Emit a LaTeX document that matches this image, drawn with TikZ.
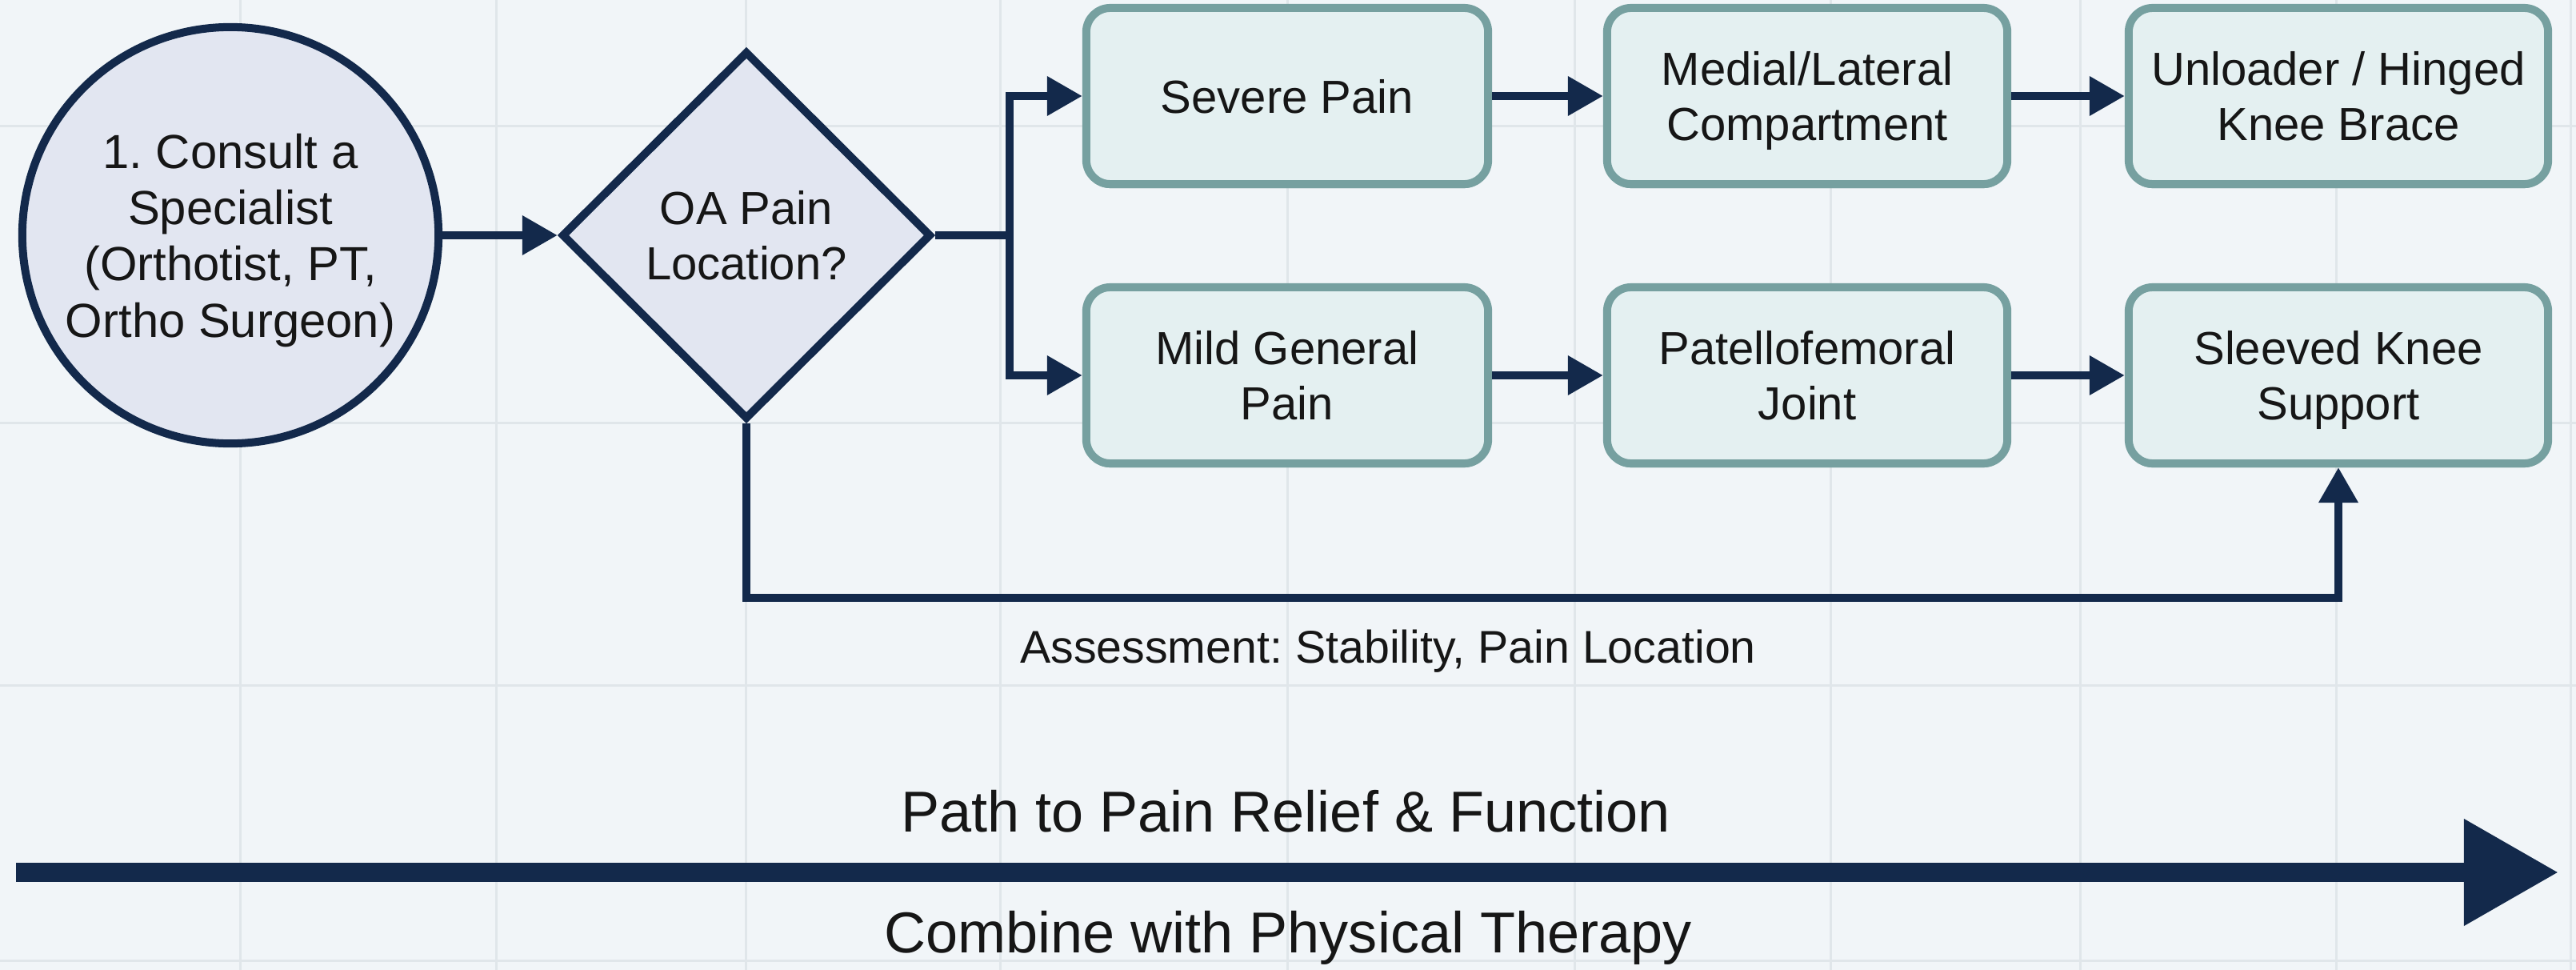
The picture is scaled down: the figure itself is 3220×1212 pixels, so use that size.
\documentclass[tikz,border=0pt]{standalone}
\usepackage{fontspec}
\setmainfont{Liberation Sans}
\frenchspacing
\usetikzlibrary{arrows.meta,shapes.geometric,shadows}
\definecolor{navy}{HTML}{13294B}
\definecolor{bg}{HTML}{F1F5F8}
\definecolor{gridc}{HTML}{E0E6EA}
\definecolor{boxfill}{HTML}{E4F0F1}
\definecolor{boxline}{HTML}{76A0A0}
\definecolor{circfill}{HTML}{E2E6F1}
\definecolor{txt}{HTML}{161616}
\begin{document}
\begin{tikzpicture}[x=0.01cm, y=-0.01cm,
  every node/.style={text=txt, font=\fontsize{16.5}{19.6}\selectfont, align=center},
  stepbox/.style={draw=boxline, line width=0.1cm, fill=boxfill, rounded corners=0.3cm,
    minimum height=2.2cm, inner sep=0pt, text depth=0pt,
    drop shadow={shadow xshift=0pt, shadow yshift=-0.05cm, fill=boxline, opacity=1}},
  conn/.style={draw=navy, line width=0.1cm},
  arr/.style={conn, -{Triangle[length=0.44cm, width=0.47cm]}},
  bigtext/.style={anchor=base, font=\fontsize{20.5}{24}\selectfont},
]
\fill[bg] (0,0) rectangle (3220,1212);
\useasboundingbox (0,0) rectangle (3220,1212);
\foreach \x in {300,620,932,1250,1609,1968,2288,2600,2920,3213}
  \draw[gridc, line width=0.03cm] (\x,0) -- (\x,1212);
\foreach \y in {157,528,856,1200}
  \draw[gridc, line width=0.03cm] (0,\y) -- (3220,\y);

\node[circle, draw=navy, line width=0.1cm, fill=circfill, minimum size=5.2cm, inner sep=0pt,
  text depth=0pt, font=\fontsize{17}{20}\selectfont] (consult) at (288,294)
  {1. Consult a\\Specialist\\(Orthotist, PT,\\Ortho Surgeon)};
\node[diamond, draw=navy, line width=0.1cm, fill=circfill, minimum width=4.62cm,
  minimum height=4.6cm, inner sep=0pt, aspect=1] (loc) at (933,294) {OA Pain\\Location?};

\node[stepbox, minimum width=5.02cm] (severe) at (1609,120) {Severe Pain};
\node[stepbox, minimum width=5.0cm] (medial) at (2259,120) {Medial/Lateral\\Compartment};
\node[stepbox, minimum width=5.24cm] (unload) at (2923,120) {Unloader / Hinged\\Knee Brace};
\node[stepbox, minimum width=5.02cm] (mild) at (1609,469) {Mild General\\Pain};
\node[stepbox, minimum width=5.0cm] (patello) at (2259,469) {Patellofemoral\\Joint};
\node[stepbox, minimum width=5.24cm] (sleeve) at (2923,469) {Sleeved Knee\\Support};

\draw[arr] (consult) -- (loc);
\coordinate (br) at (1262,294);
\draw[conn] (loc.east) -- (br);
\draw[arr] (br) |- (severe.west);
\draw[arr] (br) |- (mild.west);
\draw[arr] (severe) -- (medial);
\draw[arr] (medial) -- (unload);
\draw[arr] (mild) -- (patello);
\draw[arr] (patello) -- (sleeve);
\coordinate (low) at (0,747);
\draw[arr] (loc.south) -- (loc.south |- low) -| (sleeve.south);

\node[anchor=base, font=\fontsize{16.3}{19}\selectfont] (assess) at (1735,828)
  {Assessment: Stability, Pain Location};

\coordinate (ps) at (20,1090);
\coordinate (pe) at (3198,1090);
\draw[navy, line width=0.24cm, -{Triangle[length=1.18cm, width=1.27cm]}] (ps) -- (pe);
\node[bigtext] (pathlbl) at (1607,1039) {Path to Pain Relief \& Function};
\node[bigtext] (combine) at (1610,1190) {Combine with Physical Therapy};
\end{tikzpicture}
\end{document}
